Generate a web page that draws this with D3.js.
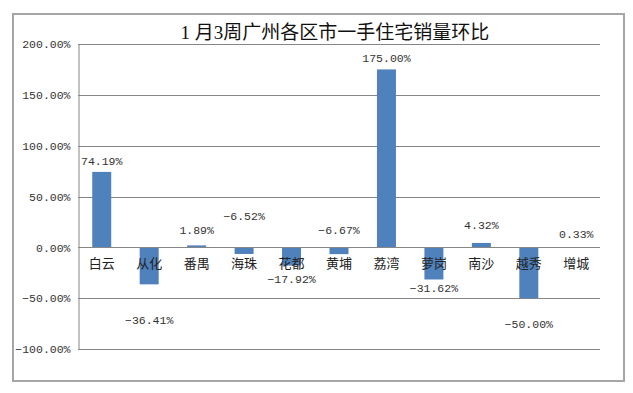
<!DOCTYPE html>
<html lang="zh">

<head>
    <meta charset="UTF-8">
    <title>1 月3周广州各区市一手住宅销量环比</title>
    <script src="https://d3js.org/d3.v7.min.js"></script>
    <style>
        body {
            margin: 0;
            background: white;
        }

        .num {
            font-family: "Liberation Mono", "DejaVu Sans Mono", monospace;
            font-size: 11.5px;
            fill: #333;
        }

        .cat {
            font-family: "Noto Sans CJK SC", sans-serif;
            font-size: 13px;
            fill: #222;
        }

        .title {
            font-family: "Liberation Serif", "Noto Sans CJK SC", serif;
            font-size: 19px;
            fill: #111;
        }
    </style>
</head>

<body>
    <svg id="vis"></svg>
    <script>
        const width = 633;
        const height = 393;

        const districts = ["白云", "从化", "番禺", "海珠", "花都", "黄埔", "荔湾", "萝岗", "南沙", "越秀", "增城"];
        const changes = [74.19, -36.41, 1.89, -6.52, -17.92, -6.67, 175.00, -31.62, 4.32, -50.00, 0.33];
        // where each data label sits, in axis units (labels were moved by hand in the original)
        const labelAt = [83.5, -72.5, 16, 29.5, -32.5, 16, 185, -41.3, 20.7, -76.8, 11.8];
        const yTicks = [-100, -50, 0, 50, 100, 150, 200];

        const svg = d3.select("#vis").attr("width", width).attr("height", height);

        const margin = { left: 78, right: 600, top: 44, bottom: 349 };

        const x = d3.scaleBand()
            .domain(districts)
            .range([margin.left, margin.right])
            .paddingInner(0.6)
            .paddingOuter(0.3);

        const y = d3.scaleLinear()
            .domain([-100, 200])
            .range([margin.bottom, margin.top]);

        // outer frame
        svg.append("rect")
            .attr("x", 13)
            .attr("y", 14)
            .attr("width", 611)
            .attr("height", 367)
            .attr("fill", "white")
            .attr("stroke", "#a6a6a6")
            .attr("stroke-width", 2);

        svg.append("text")
            .attr("class", "title")
            .attr("x", 335)
            .attr("y", 39)
            .attr("text-anchor", "middle")
            .text("1 月3周广州各区市一手住宅销量环比");

        // gridlines
        svg.append("g")
            .selectAll("line")
            .data(yTicks)
            .join("line")
            .attr("x1", margin.left)
            .attr("x2", margin.right)
            .attr("y1", d => Math.round(y(d)) + 0.5)
            .attr("y2", d => Math.round(y(d)) + 0.5)
            .attr("stroke", "#868686")
            .attr("stroke-width", 1);

        // y axis
        const yAxis = svg.append("g")
            .attr("transform", `translate(${margin.left + 0.5},0)`)
            .call(d3.axisLeft(y).tickValues(yTicks).tickSize(0).tickPadding(8)
                .tickFormat(d => d3.format(".2f")(d) + "%"));
        yAxis.select(".domain").attr("stroke", "#868686");
        yAxis.selectAll("text").attr("class", "num").attr("font-family", null).attr("font-size", null);

        // bars
        svg.append("g")
            .selectAll("rect")
            .data(districts)
            .join("rect")
            .attr("x", d => x(d))
            .attr("width", x.bandwidth())
            .attr("y", (d, i) => y(Math.max(0, changes[i])))
            .attr("height", (d, i) => Math.abs(y(changes[i]) - y(0)))
            .attr("fill", "#4f81bd");

        // zero line on top of bars
        svg.append("line")
            .attr("x1", margin.left)
            .attr("x2", margin.right)
            .attr("y1", Math.round(y(0)) + 0.5)
            .attr("y2", Math.round(y(0)) + 0.5)
            .attr("stroke", "#868686");

        // category labels
        svg.append("g")
            .selectAll("text")
            .data(districts)
            .join("text")
            .attr("class", "cat")
            .attr("x", d => x(d) + x.bandwidth() / 2)
            .attr("y", y(0) + 17)
            .attr("dominant-baseline", "middle")
            .attr("text-anchor", "middle")
            .text(d => d);

        // data labels
        svg.append("g")
            .selectAll("text")
            .data(districts)
            .join("text")
            .attr("class", "num")
            .attr("x", d => x(d) + x.bandwidth() / 2)
            .attr("y", (d, i) => y(labelAt[i]))
            .attr("dominant-baseline", "middle")
            .attr("text-anchor", "middle")
            .text((d, i) => d3.format(".2f")(changes[i]) + "%");
    </script>
</body>

</html>
